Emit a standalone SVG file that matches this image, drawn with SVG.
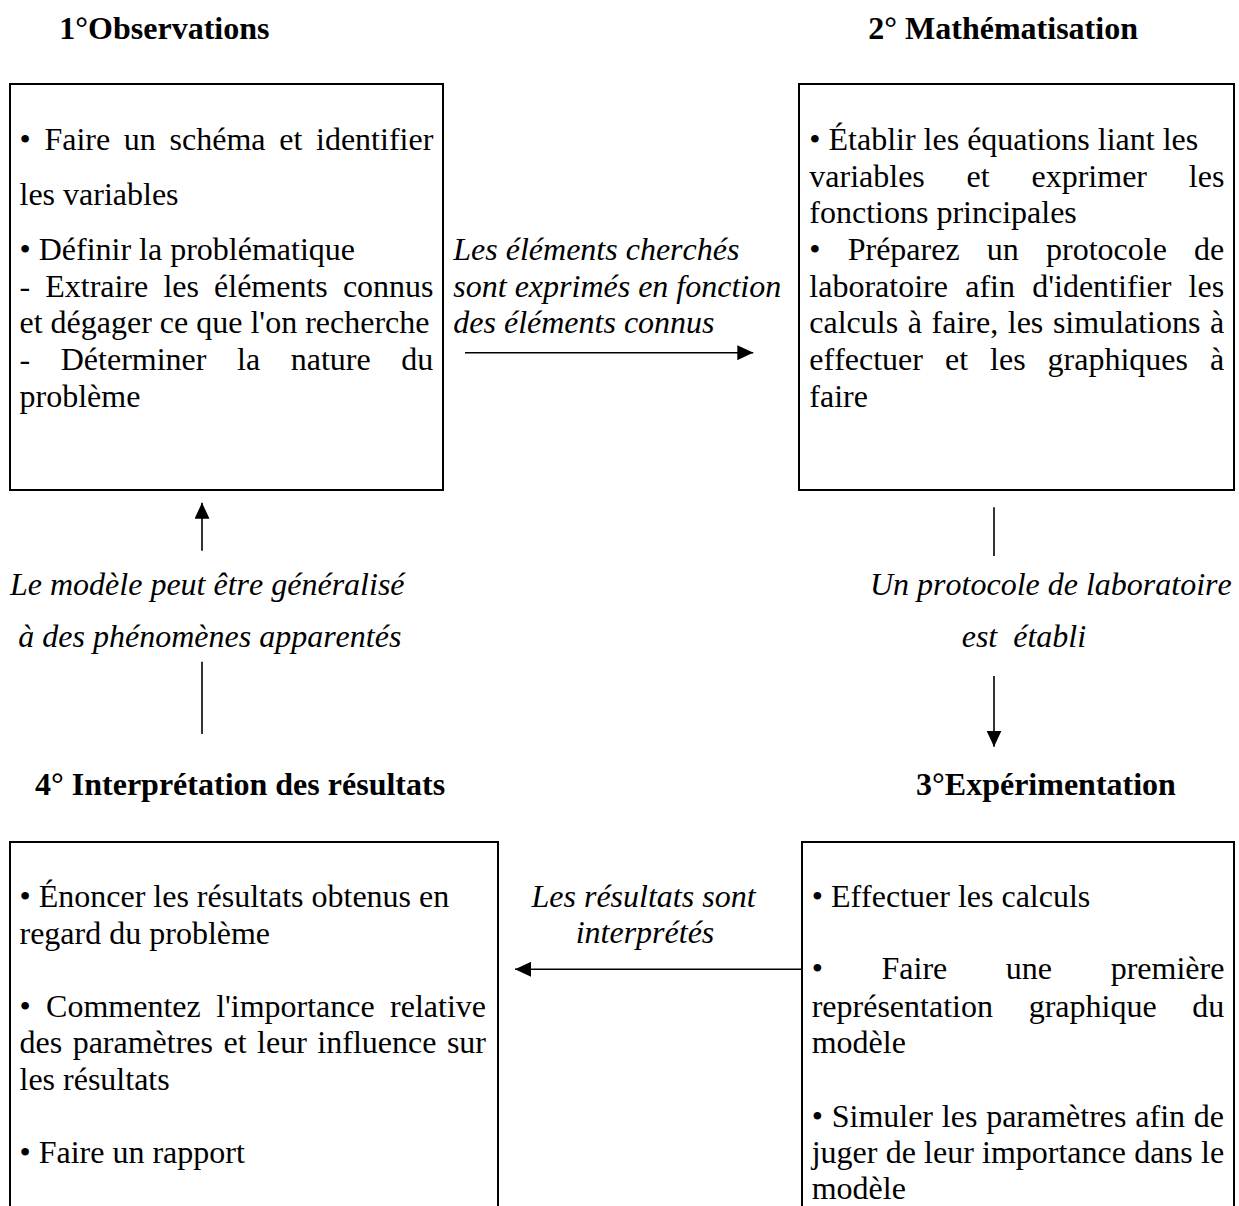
<svg xmlns="http://www.w3.org/2000/svg" width="1239" height="1206" viewBox="0 0 1239 1206">
<style>
  text { font-family: "Liberation Serif", "Times New Roman", serif; font-size: 32px; fill: #000; font-kerning: none; }
  .h { font-weight: bold; }
  .i { font-style: italic; }
  .box { fill: #fff; stroke: #000; stroke-width: 2; }
  .conn { stroke: #000; stroke-width: 1.6; fill: none; }
  .pre { white-space: pre; }
</style>
<defs>
  <marker id="ah" markerUnits="userSpaceOnUse" markerWidth="16" markerHeight="15" refX="16" refY="7.5" orient="auto">
    <path d="M0,0 L16,7.5 L0,15 z" fill="#000"/>
  </marker>
</defs>
<rect width="1239" height="1206" fill="#fff"/>

<g id="node-observations">
  <text class="h" x="59.3" y="39">1°Observations</text>
  <rect class="box" x="10" y="84" width="433" height="406"/>
  <text x="19.5" y="150" word-spacing="5.7">• Faire un schéma et identifier</text>
  <text x="19.5" y="205">les variables</text>
  <text x="19.5" y="260">• Définir la problématique</text>
  <text x="19.5" y="296.7" word-spacing="7.1">- Extraire les éléments connus</text>
  <text x="19.5" y="333.3">et dégager ce que l'on recherche</text>
  <text x="19.5" y="370" word-spacing="22.6">- Déterminer la nature du</text>
  <text x="19.5" y="406.7">problème</text>
</g>

<g id="node-mathematisation">
  <text class="h" x="868.3" y="39">2° Mathématisation</text>
  <rect class="box" x="799" y="84" width="435" height="406"/>
  <text x="809.3" y="150">• Établir les équations liant les</text>
  <text x="809.3" y="186.7" word-spacing="33.8">variables et exprimer les</text>
  <text x="809.3" y="223.3">fonctions principales</text>
  <text x="809.3" y="260" word-spacing="19.2">• Préparez un protocole de</text>
  <text x="809.3" y="296.7" word-spacing="9.3">laboratoire afin d'identifier les</text>
  <text x="809.3" y="333.3" word-spacing="1.6">calculs à faire, les simulations à</text>
  <text x="809.3" y="370" word-spacing="14">effectuer et les graphiques à</text>
  <text x="809.3" y="406.7">faire</text>
</g>

<g id="node-experimentation">
  <text class="h" x="916" y="795">3°Expérimentation</text>
  <rect class="box" x="802" y="842" width="432" height="400"/>
  <text x="811.7" y="906.7">• Effectuer les calculs</text>
  <text x="811.7" y="979.3" word-spacing="50.6">• Faire une première</text>
  <text x="811.7" y="1016.7" word-spacing="27.7">représentation graphique du</text>
  <text x="811.7" y="1053.3">modèle</text>
  <text x="811.7" y="1126.7" word-spacing="0.8">• Simuler les paramètres afin de</text>
  <text x="811.7" y="1163.3" word-spacing="0.2">juger de leur importance dans le</text>
  <text x="811.7" y="1199">modèle</text>
</g>

<g id="node-interpretation">
  <text class="h" x="35" y="795">4° Interprétation des résultats</text>
  <rect class="box" x="10" y="842" width="488" height="400"/>
  <text x="19.5" y="907">• Énoncer les résultats obtenus en</text>
  <text x="19.5" y="943.7">regard du problème</text>
  <text x="19.5" y="1016.7" word-spacing="7.4">• Commentez l'importance relative</text>
  <text x="19.5" y="1053.3" word-spacing="2.5">des paramètres et leur influence sur</text>
  <text x="19.5" y="1090">les résultats</text>
  <text x="19.5" y="1163.3">• Faire un rapport</text>
</g>

<g id="connectors">
  <line class="conn" x1="465" y1="352.7" x2="753.3" y2="352.7" marker-end="url(#ah)"/>
  <line class="conn" x1="994" y1="507.3" x2="994" y2="556"/>
  <line class="conn" x1="994" y1="676" x2="994" y2="746.7" marker-end="url(#ah)"/>
  <line class="conn" x1="801.7" y1="969.3" x2="515" y2="969.3" marker-end="url(#ah)"/>
  <line class="conn" x1="202" y1="734" x2="202" y2="661.7"/>
  <line class="conn" x1="202" y1="550.7" x2="202" y2="502.7" marker-end="url(#ah)"/>

  <text class="i" x="453.3" y="260">Les éléments cherchés</text>
  <text class="i" x="453.3" y="296.7">sont exprimés en fonction</text>
  <text class="i" x="453.3" y="333.3">des éléments connus</text>

  <text class="i" x="870" y="594.5">Un protocole de laboratoire</text>
  <text class="i pre" x="961.7" y="646.7">est  établi</text>

  <text class="i" x="643.5" y="907.3" text-anchor="middle">Les résultats sont</text>
  <text class="i" x="645" y="943.3" text-anchor="middle">interprétés</text>

  <text class="i" x="10" y="594.5">Le modèle peut être généralisé</text>
  <text class="i" x="18.3" y="646.7">à des phénomènes apparentés</text>
</g>
</svg>
